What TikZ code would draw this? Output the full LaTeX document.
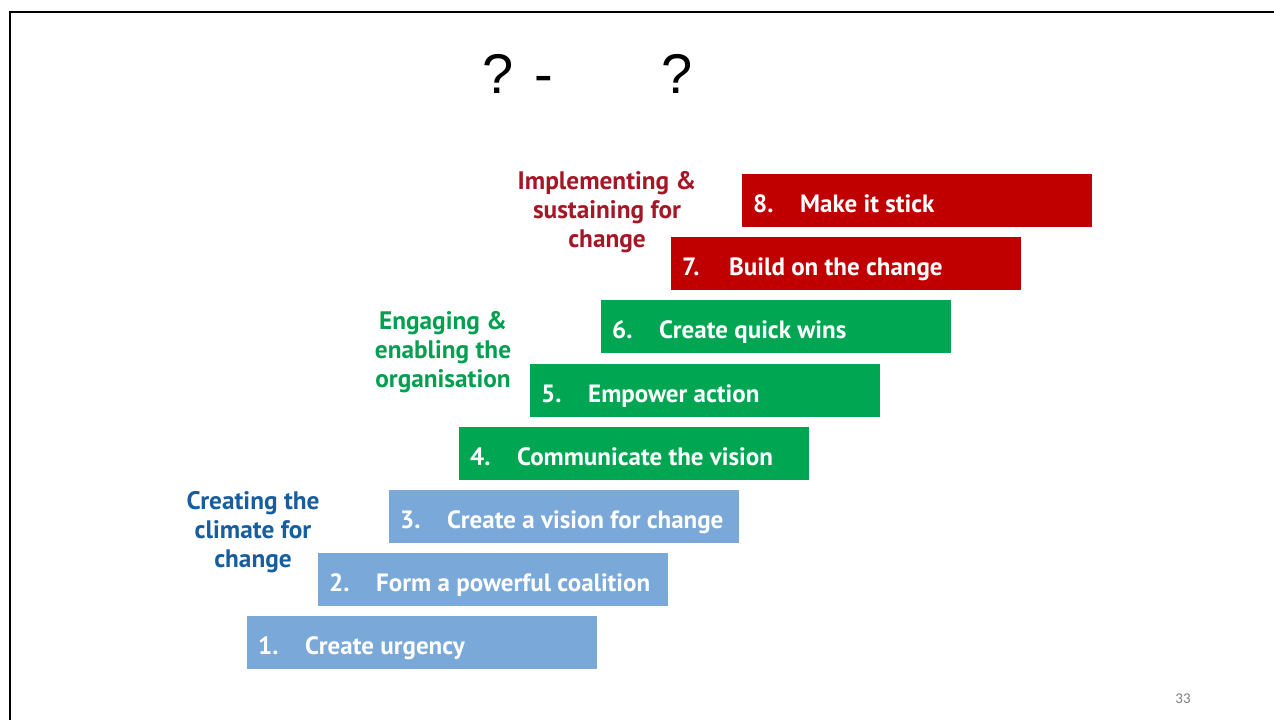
\documentclass[tikz,border=0pt]{standalone}
\usepackage{fontspec}
\setmainfont{PT Sans}
\newfontfamily\titlefont{Liberation Sans}
\newfontfamily\numfont{Carlito}
\definecolor{stepblue}{RGB}{122,168,216}
\definecolor{stepgreen}{RGB}{0,166,81}
\definecolor{stepred}{RGB}{192,0,0}
\definecolor{lblblue}{RGB}{22,94,160}
\definecolor{lblgreen}{RGB}{0,160,80}
\definecolor{lblred}{RGB}{165,22,38}
\tikzset{
  stepbox/.style={minimum width=350pt, minimum height=53pt, inner sep=0pt, anchor=north west},
  steptext/.style={text=white, font=\fontsize{25}{28}\selectfont\bfseries, anchor=base west, inner sep=0pt},
  phase/.style={align=center, font=\fontsize{25.3}{29}\selectfont\bfseries, inner sep=0pt},
  titletext/.style={font=\titlefont\fontsize{56}{60}\selectfont, anchor=base, inner sep=0pt},
}
\begin{document}
\begin{tikzpicture}[x=1pt,y=-1pt]
\useasboundingbox (0,0) rectangle (1274,720);
\fill[white] (0,0) rectangle (1274,720);
\draw[line width=2.5pt] (10,720) -- (10,12) -- (1274,12);
% title
\node[titletext] (q1) at (498,93) {?};
\node[titletext] (dash) at (544,93) {-};
\node[titletext] (q2) at (677,93) {?};
% steps
\foreach \i/\x/\y/\c/\t in {
 1/247/616/stepblue/Create urgency,
 2/318/553/stepblue/Form a powerful coalition,
 3/389/490/stepblue/Create a vision for change,
 4/459/427/stepgreen/Communicate the vision,
 5/530/364/stepgreen/Empower action,
 6/601/300/stepgreen/Create quick wins,
 7/671/237/stepred/Build on the change,
 8/742/174/stepred/Make it stick}{
  \node[stepbox, fill=\c] (s\i) at (\x,\y) {};
  \node[steptext] (n\i) at ([xshift=11pt,yshift=-38.5pt]s\i.north west) {\i.};
  \node[steptext] (t\i) at ([xshift=58pt,yshift=-38.5pt]s\i.north west) {\t};
}
% phase labels
\node[phase, text=lblred] (pr) at (607,212) {Implementing \&\\sustaining for\\change};
\node[phase, text=lblgreen] (pg) at (443,352) {Engaging \&\\enabling the\\organisation};
\node[phase, text=lblblue] (pb) at (253,532) {Creating the\\climate for\\change};
% page number
\node[font=\numfont\fontsize{15}{18}\selectfont, text=gray, anchor=base, inner sep=0pt] (pn) at (1183,703) {33};
\end{tikzpicture}
\end{document}
